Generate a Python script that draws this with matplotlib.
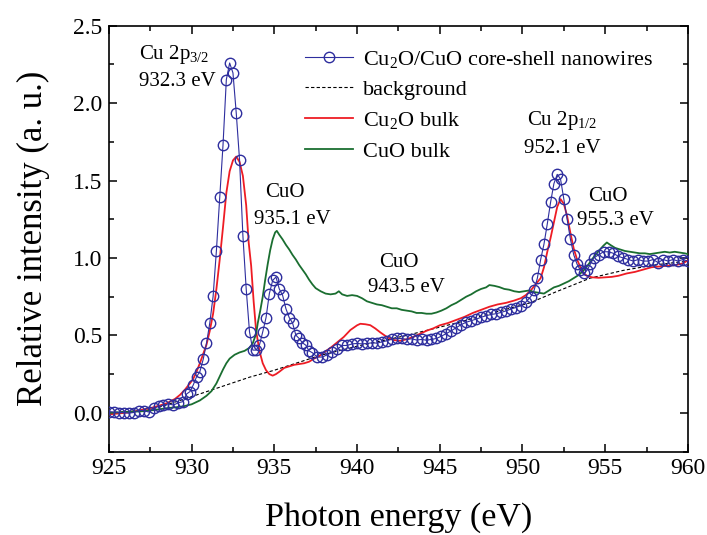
import numpy as np
import matplotlib
matplotlib.use("Agg")
import matplotlib.pyplot as plt
from matplotlib.ticker import MultipleLocator

plt.rcParams["font.family"] = ["Liberation Serif", "DejaVu Serif"]
plt.rcParams["mathtext.fontset"] = "custom"
plt.rcParams["mathtext.rm"] = "Liberation Serif"
plt.rcParams["mathtext.it"] = "Liberation Serif:italic"

# core-shell nanowires, scan in segments (coarse / fine steps)
nw_y_seg1 = [0.008, 0.005, 0.002, 0.002, -0.002, 0.002, 0.015, 0.015, 0.005, 0.03,
             0.041, 0.049, 0.058, 0.05, 0.065]
nw_y_seg2 = [0.073, 0.122, 0.137, 0.18, 0.233, 0.266, 0.345, 0.448, 0.581, 0.752,
             1.048, 1.395, 1.732, 2.152, 2.259, 2.195, 1.934, 1.631, 1.145, 0.80,
             0.523, 0.405, 0.405, 0.437, 0.523, 0.615, 0.77, 0.855, 0.877, 0.80,
             0.759, 0.673, 0.615, 0.581, 0.502, 0.48, 0.452, 0.437, 0.40, 0.388]
nw_y_seg3 = [0.36, 0.36, 0.375, 0.39, 0.41, 0.435, 0.435, 0.445, 0.448, 0.445,
             0.448, 0.452, 0.45, 0.458, 0.465, 0.475, 0.48, 0.48, 0.474, 0.478,
             0.47, 0.474, 0.469, 0.474, 0.48, 0.495, 0.512, 0.53, 0.55, 0.57,
             0.585, 0.595, 0.605, 0.617, 0.627, 0.635, 0.64, 0.648, 0.658, 0.67,
             0.68, 0.692, 0.715]
nw_y_seg4 = [0.75, 0.79, 0.87, 0.99, 1.09, 1.22, 1.36, 1.48, 1.54, 1.51,
             1.38, 1.25, 1.12, 1.02, 0.96, 0.92, 0.90, 0.92, 0.96, 1.00]
nw_y_seg5 = [1.02, 1.04, 1.04, 1.03, 1.01, 1.00, 0.99, 0.98, 0.99, 0.98,
             0.98, 0.99, 0.97, 0.99, 0.98, 0.99, 0.98, 0.99, 0.98]
nw_ranges = [(925.0, 929.2), (929.5, 937.3), (937.6, 950.2), (950.5, 954.3), (954.6, 960.0)]

bg_x = [925.0, 927.0, 928.0, 929.3, 931.0, 933.5, 935.0, 937.75, 940.0, 943.0,
        946.0, 948.0, 950.45, 952.0, 954.1, 956.1, 958.0, 960.0]
bg_y = [0.0, 0.015, 0.035, 0.08, 0.14, 0.23, 0.275, 0.37, 0.43, 0.50,
        0.58, 0.64, 0.71, 0.78, 0.87, 0.92, 0.955, 0.98]

cu2o_x = [925.0, 926.0, 926.5, 927.0, 927.5, 928.0, 928.5, 929.0, 929.3, 929.6,
          929.9, 930.1, 930.3, 930.5, 930.7, 930.9, 931.1, 931.3, 931.5, 931.7,
          931.9, 932.1, 932.3, 932.5, 932.7, 932.9, 933.1, 933.3, 933.45, 933.6,
          933.75, 933.9, 934.1, 934.3, 934.5, 934.7, 934.9, 935.1, 935.3, 935.6,
          935.9, 936.2, 936.5, 936.8, 937.1, 937.4, 937.7, 938.0, 938.4, 938.8,
          939.2, 939.6, 940.0, 940.2, 940.5, 940.8, 941.1, 941.4, 941.8, 942.2,
          942.6, 943.0, 943.4, 943.8, 944.2, 944.6, 945.0, 945.5, 946.0, 946.5,
          947.0, 947.5, 948.0, 948.5, 949.0, 949.5, 949.9, 950.2, 950.5, 950.8,
          951.1, 951.3, 951.5, 951.7, 951.9, 952.1, 952.3, 952.5, 952.7, 952.9,
          953.1, 953.3, 953.5, 953.7, 953.9, 954.2, 954.6, 955.0, 955.4, 955.8,
          956.3, 956.8, 957.3, 957.8, 958.3, 958.8, 959.3, 959.7, 960.0]
cu2o_y = [-0.01, 0.0, 0.008, 0.02, 0.03, 0.045, 0.062, 0.09, 0.116, 0.15,
          0.19, 0.22, 0.266, 0.32, 0.38, 0.44, 0.53, 0.64, 0.80, 0.99,
          1.20, 1.42, 1.56, 1.63, 1.655, 1.62, 1.53, 1.34, 1.10, 0.95,
          0.72, 0.53, 0.40, 0.32, 0.275, 0.25, 0.24, 0.25, 0.265, 0.29,
          0.30, 0.31, 0.315, 0.32, 0.33, 0.35, 0.365, 0.39, 0.42, 0.455,
          0.49, 0.535, 0.565, 0.575, 0.572, 0.566, 0.545, 0.52, 0.49, 0.47,
          0.465, 0.475, 0.49, 0.51, 0.53, 0.545, 0.565, 0.58, 0.60, 0.62,
          0.645, 0.665, 0.685, 0.70, 0.71, 0.725, 0.74, 0.76, 0.79, 0.83,
          0.87, 0.94, 1.04, 1.13, 1.23, 1.33, 1.38, 1.35, 1.27, 1.16,
          1.06, 0.99, 0.94, 0.90, 0.885, 0.875, 0.872, 0.875, 0.878, 0.885,
          0.90, 0.91, 0.925, 0.94, 0.945, 0.95, 0.955, 0.965, 0.985]

cuo_x = [925.0, 926.0, 927.0, 927.5, 928.0, 928.5, 929.0, 929.5, 930.0, 930.5,
         930.9, 931.2, 931.5, 931.7, 931.9, 932.1, 932.3, 932.6, 932.9, 933.2,
         933.5, 933.7, 933.9, 934.0, 934.15, 934.3, 934.45, 934.6, 934.75, 934.9,
         935.05, 935.15, 935.3, 935.5, 935.7, 935.9, 936.1, 936.3, 936.5, 936.7,
         936.9, 937.1, 937.3, 937.5, 937.8, 938.1, 938.4, 938.7, 938.9, 939.1,
         939.4, 939.7, 940.0, 940.3, 940.6, 940.9, 941.2, 941.5, 941.8, 942.1,
         942.4, 942.7, 943.0, 943.3, 943.6, 943.9, 944.2, 944.5, 944.8, 945.1,
         945.4, 945.7, 946.0, 946.3, 946.6, 946.9, 947.2, 947.5, 947.8, 948.0,
         948.3, 948.6, 948.9, 949.2, 949.5, 949.8, 950.1, 950.4, 950.7, 951.0,
         951.3, 951.6, 951.9, 952.2, 952.5, 952.8, 953.1, 953.4, 953.7, 954.0,
         954.3, 954.6, 954.9, 955.1, 955.3, 955.6, 955.9, 956.2, 956.5, 956.8,
         957.1, 957.4, 957.7, 958.0, 958.3, 958.6, 958.9, 959.2, 959.5, 959.8,
         960.0]
cuo_y = [0.0, 0.005, 0.01, 0.015, 0.022, 0.03, 0.035, 0.042, 0.055, 0.08,
         0.11, 0.14, 0.19, 0.235, 0.28, 0.32, 0.35, 0.375, 0.39, 0.40,
         0.42, 0.45, 0.51, 0.58, 0.66, 0.75, 0.86, 0.96, 1.05, 1.12,
         1.165, 1.175, 1.15, 1.12, 1.085, 1.055, 1.02, 0.99, 0.955, 0.925,
         0.895, 0.86, 0.83, 0.805, 0.785, 0.77, 0.765, 0.77, 0.785, 0.765,
         0.755, 0.76, 0.755, 0.74, 0.72, 0.71, 0.70, 0.695, 0.685, 0.675,
         0.675, 0.665, 0.66, 0.655, 0.645, 0.645, 0.64, 0.64, 0.648, 0.66,
         0.675, 0.695, 0.71, 0.73, 0.75, 0.765, 0.785, 0.80, 0.81, 0.825,
         0.82, 0.812, 0.80, 0.795, 0.785, 0.78, 0.785, 0.79, 0.78, 0.775,
         0.77, 0.79, 0.81, 0.82, 0.835, 0.85, 0.87, 0.89, 0.92, 0.96,
         1.005, 1.045, 1.08, 1.10, 1.085, 1.065, 1.055, 1.045, 1.04, 1.035,
         1.03, 1.03, 1.025, 1.03, 1.035, 1.04, 1.035, 1.04, 1.035, 1.03,
         1.025]

NAVY = "#2e2e9e"
RED = "#ee1c24"
GREEN = "#1a6e30"


def main():
    segs = [nw_y_seg1, nw_y_seg2, nw_y_seg3, nw_y_seg4, nw_y_seg5]
    nw_x = np.concatenate([np.linspace(a, b, len(s)) for (a, b), s in zip(nw_ranges, segs)])
    nw_y = np.concatenate(segs)

    fig = plt.figure(figsize=(7.07, 5.35), dpi=100)
    ax = fig.add_axes([0.154, 0.156, 0.819, 0.796])

    ax.plot(nw_x, nw_y, color=NAVY, lw=0.8, marker="o", ms=7.5, mfc="none",
            mec=NAVY, mew=1.0, label="Cu$_2$O/CuO core-shell nanowires", zorder=4)
    ax.plot(bg_x, bg_y, color="black", lw=0.8, ls=(0, (3, 2)), label="background", zorder=2)
    ax.plot(cu2o_x, cu2o_y, color=RED, lw=1.3, label="Cu$_2$O bulk", zorder=3)
    ax.plot(cuo_x, cuo_y, color=GREEN, lw=1.3, label="CuO bulk", zorder=3)

    ax.set_xlim(925, 960)
    ax.set_ylim(-0.25, 2.5)
    ax.xaxis.set_major_locator(MultipleLocator(5))
    ax.xaxis.set_minor_locator(MultipleLocator(2.5))
    ax.yaxis.set_major_locator(MultipleLocator(0.5))
    ax.yaxis.set_minor_locator(MultipleLocator(0.25))
    ax.yaxis.set_major_formatter(plt.FormatStrFormatter("%.1f"))
    ax.tick_params(which="both", direction="in", top=True, right=True, width=1.1)
    ax.tick_params(which="major", length=5.5, labelsize=17, pad=5)
    ax.tick_params(which="minor", length=3.5)
    for sp in ax.spines.values():
        sp.set_linewidth(1.2)

    ax.set_xlabel("Photon energy (eV)", fontsize=24.5, labelpad=16)
    ax.set_ylabel("Relative intensity (a. u.)", fontsize=25, labelpad=16)

    fs = 15
    ax.text(926.85, 2.315, "Cu 2p$_{3/2}$", fontsize=fs, ha="left", va="center")
    ax.text(926.85, 2.14, "932.3 eV", fontsize=fs, ha="left", va="center")
    ax.text(935.65, 1.42, "CuO", fontsize=fs, ha="center", va="center")
    ax.text(936.1, 1.25, "935.1 eV", fontsize=fs, ha="center", va="center")
    ax.text(942.55, 0.97, "CuO", fontsize=fs, ha="center", va="center")
    ax.text(943.0, 0.81, "943.5 eV", fontsize=fs, ha="center", va="center")
    ax.text(952.4, 1.89, "Cu 2p$_{1/2}$", fontsize=fs, ha="center", va="center")
    ax.text(952.4, 1.71, "952.1 eV", fontsize=fs, ha="center", va="center")
    ax.text(955.15, 1.40, "CuO", fontsize=fs, ha="center", va="center")
    ax.text(955.6, 1.24, "955.3 eV", fontsize=fs, ha="center", va="center")

    ax.legend(loc="upper left", bbox_to_anchor=(0.338, 0.946), frameon=False,
              fontsize=16, numpoints=1, handlelength=2.2, handletextpad=0.45,
              labelspacing=0.45, borderpad=0, borderaxespad=0)

    fig.savefig("out.png", dpi=100)
    plt.close(fig)


if __name__ == "__main__":
    main()
